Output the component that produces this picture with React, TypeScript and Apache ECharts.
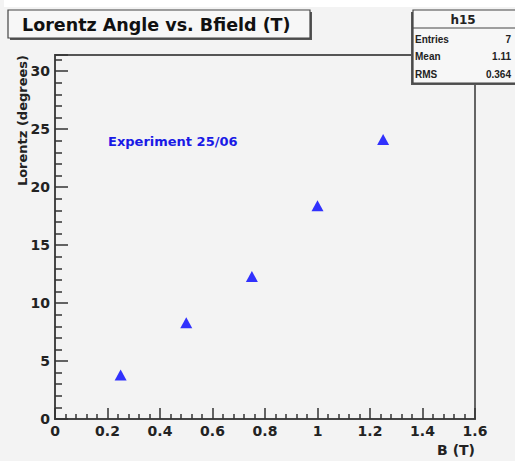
import React, { useEffect, useRef } from "react";
import * as echarts from "echarts";

const bField = [0.25, 0.5, 0.75, 1.0, 1.25];
const lorentzAngle = [3.8, 8.3, 12.3, 18.4, 24.1];
const statsLabels = ["Entries", "Mean", "RMS"];
const statsValues = ["7", "1.11", "0.364"];
const histName = "h15";
const titleText = "Lorentz Angle vs. Bfield (T)";
const noteText = "Experiment 25/06";

const FONT = "DejaVu Sans, Verdana, sans-serif";
const FONT2 = "Liberation Sans, Arial, Helvetica, sans-serif";

export default function App() {
  const ref = useRef<HTMLDivElement>(null);
  useEffect(() => {
    if (!ref.current) return;
    const chart = echarts.init(ref.current, null, { renderer: "svg" });
    const statRows: any[] = [];
    statsLabels.forEach((l, i) => {
      const y = 39 + i * 17.5;
      statRows.push({
        type: "text",
        x: 415,
        y: y,
        style: { text: l, font: `bold 10px ${FONT2}`, fill: "#222", verticalAlign: "middle" },
        z: 12,
      });
      statRows.push({
        type: "text",
        x: 511,
        y: y,
        style: {
          text: statsValues[i],
          font: `bold 10px ${FONT2}`,
          fill: "#222",
          align: "right",
          verticalAlign: "middle",
        },
        z: 12,
      });
    });
    chart.setOption({
      animation: false,
      backgroundColor: "#f3f3f3",
      grid: {
        left: 55,
        top: 55,
        right: 40,
        bottom: 42,
        show: true,
        borderColor: "#555",
        borderWidth: 1.8,
        backgroundColor: "transparent",
      },
      xAxis: {
        type: "value",
        min: 0,
        max: 1.6,
        interval: 0.2,
        splitLine: { show: false },
        axisLine: { show: true, lineStyle: { color: "#444", width: 1.8 } },
        axisTick: { show: true, inside: true, length: 11, lineStyle: { color: "#333", width: 1.5 } },
        minorTick: { show: true, splitNumber: 5, length: 5, lineStyle: { color: "#333", width: 1.5 } },
        axisLabel: {
          color: "#222",
          fontWeight: "bold",
          fontSize: 14,
          fontFamily: FONT,
          margin: 5,
          formatter: (v: number) => String(Math.round(v * 10) / 10),
        },
      },
      yAxis: {
        type: "value",
        min: 0,
        max: 31.4,
        interval: 5,
        splitLine: { show: false },
        axisLine: { show: true, lineStyle: { color: "#444", width: 1.8 } },
        axisTick: { show: true, inside: true, length: 13, lineStyle: { color: "#333", width: 1.5 } },
        minorTick: { show: true, splitNumber: 5, length: 7, lineStyle: { color: "#333", width: 1.5 } },
        axisLabel: {
          color: "#222",
          fontWeight: "bold",
          fontSize: 14,
          fontFamily: FONT,
          margin: 5,
          formatter: (v: number) => (v % 5 === 0 ? String(v) : ""),
        },
      },
      series: [
        {
          type: "scatter",
          data: bField.map((b, i) => [b, lorentzAngle[i]]),
          symbol: "triangle",
          symbolSize: [12, 11],
          itemStyle: { color: "#0000ff" },
        },
      ],
      graphic: [
        {
          type: "rect",
          shape: { x: 4, y: 0, width: 515, height: 7 },
          style: { fill: "#ffffff" },
          z: 1,
        },
        {
          type: "rect",
          shape: { x: 10, y: 12, width: 302, height: 28 },
          style: { fill: "#555" },
          z: 10,
        },
        {
          type: "rect",
          shape: { x: 8, y: 10, width: 302, height: 28 },
          style: { fill: "#f7f7f7", stroke: "#444", lineWidth: 1.2 },
          z: 11,
        },
        {
          type: "text",
          x: 22,
          y: 25,
          style: {
            text: titleText,
            font: `bold 17.5px ${FONT}`,
            fill: "#111",
            verticalAlign: "middle",
          },
          z: 12,
        },
        {
          type: "rect",
          shape: { x: 411, y: 12, width: 104, height: 73 },
          style: { fill: "#555" },
          z: 10,
        },
        {
          type: "rect",
          shape: { x: 413, y: 10, width: 104, height: 73 },
          style: { fill: "#f7f7f7", stroke: "#444", lineWidth: 1.2 },
          z: 11,
        },
        {
          type: "line",
          shape: { x1: 413, y1: 28, x2: 515, y2: 28 },
          style: { stroke: "#444", lineWidth: 1 },
          z: 12,
        },
        {
          type: "text",
          x: 463,
          y: 20,
          style: {
            text: histName,
            font: `bold 12px ${FONT}`,
            fill: "#222",
            align: "center",
            verticalAlign: "middle",
          },
          z: 12,
        },
        ...statRows,
        {
          type: "text",
          x: 108,
          y: 141,
          style: {
            text: noteText,
            font: `bold 13px ${FONT}`,
            fill: "#1a1ae6",
            verticalAlign: "middle",
          },
          z: 12,
        },
        {
          type: "text",
          x: 22,
          y: 55,
          rotation: Math.PI / 2,
          style: {
            text: "Lorentz (degrees)",
            font: `bold 13px ${FONT}`,
            fill: "#222",
            align: "right",
            verticalAlign: "middle",
          },
          z: 12,
        },
        {
          type: "text",
          x: 475,
          y: 450,
          style: {
            text: "B (T)",
            font: `bold 14px ${FONT}`,
            fill: "#222",
            align: "right",
            verticalAlign: "middle",
          },
          z: 12,
        },
      ],
    });
    return () => chart.dispose();
  }, []);
  return <div ref={ref} style={{ width: 515, height: 461, position: "absolute", left: 0, top: 0 }} />;
}
